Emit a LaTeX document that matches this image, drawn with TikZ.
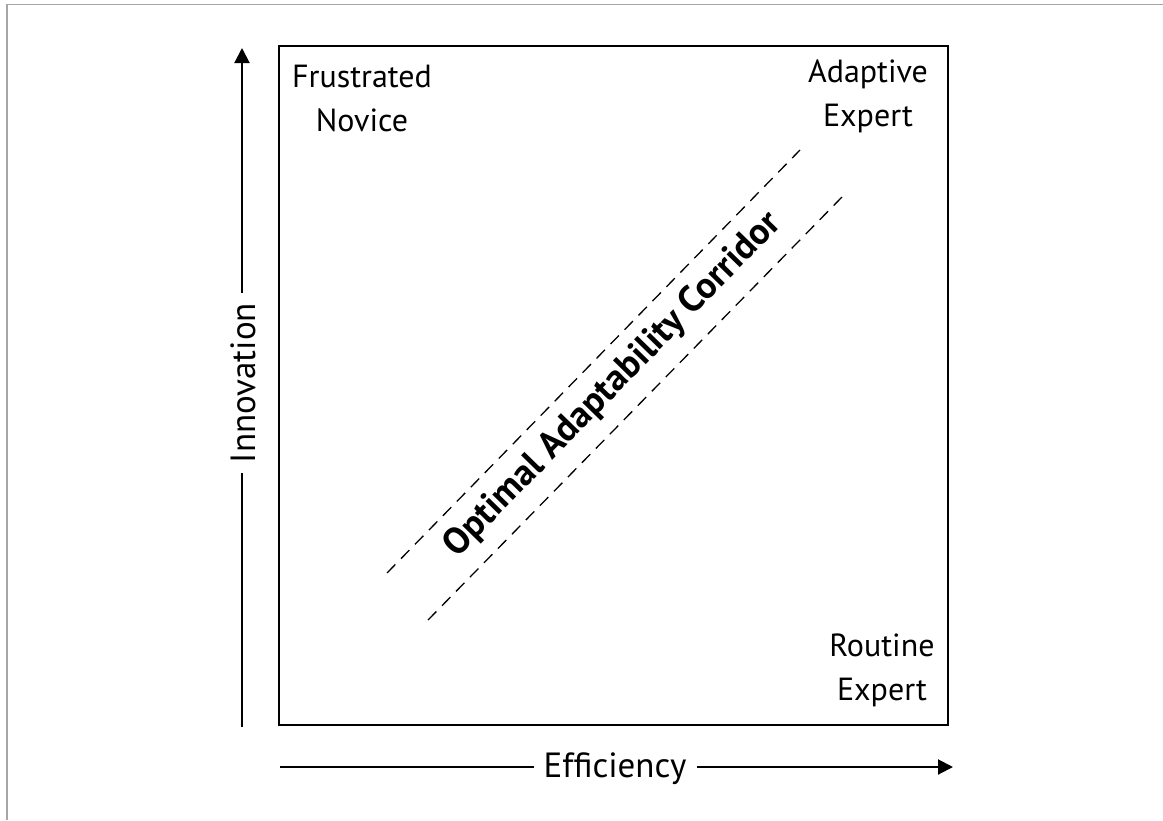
\documentclass[tikz,border=0pt]{standalone}
\usepackage{fontspec}
\setmainfont{PT Sans}
\usetikzlibrary{arrows.meta}

\begin{document}
\begin{tikzpicture}[x=1pt, y=-1pt,
    corner/.style={align=center, font=\fontsize{32}{44}\selectfont},
    axislabel/.style={font=\fontsize{35}{42}\selectfont, inner sep=10pt, text height=24pt, text depth=0pt},
    axisline/.style={line width=2pt},
    corridor/.style={dash pattern=on 12pt off 8pt, line width=1.3pt}
  ]
  \useasboundingbox (0,0) rectangle (1163,820);
  % page edge
  \draw[gray!70, line width=1.5pt] (7,820) -- (7,4.5) -- (1163,4.5);

  % frame
  \node[draw, line width=2pt, minimum width=669pt, minimum height=679pt, inner sep=0pt] (frame) at (613.5,385.5) {};

  % axes
  \coordinate (ybot) at (242,727);
  \coordinate (ytop) at (242,48);
  \node[axislabel, rotate=90] (innov) at (243,383) {Innovation};
  \draw[axisline] (ybot) -- (ybot |- innov.west);
  \draw[axisline, -{Triangle[length=15pt,width=15pt]}] (ytop |- innov.east) -- (ytop);

  \coordinate (xleft) at (280,767);
  \coordinate (xright) at (953,767);
  \node[axislabel] (effic) at (615,765) {Efficiency};
  \draw[axisline] (xleft) -- (xleft -| effic.west);
  \draw[axisline, -{Triangle[length=15pt,width=15pt]}] (xright -| effic.east) -- (xright);

  % corners
  \node[corner] (novice) at (362,98) {Frustrated\\Novice};
  \node[corner] (adaptive) at (868,96) {Adaptive\\Expert};
  \node[corner] (routine) at (882,670) {Routine\\Expert};

  % corridor
  \coordinate (upA) at (387,573);
  \coordinate (upB) at (800,150);
  \coordinate (loA) at (428,620);
  \coordinate (loB) at (842,197);
  \draw[corridor] (upA) -- (upB);
  \draw[corridor] (loA) -- (loB);
  \node[font=\bfseries\fontsize{37}{44}\selectfont, rotate=45.7] (label) at (613,385) {Optimal Adaptability Corridor};
\end{tikzpicture}
\end{document}
